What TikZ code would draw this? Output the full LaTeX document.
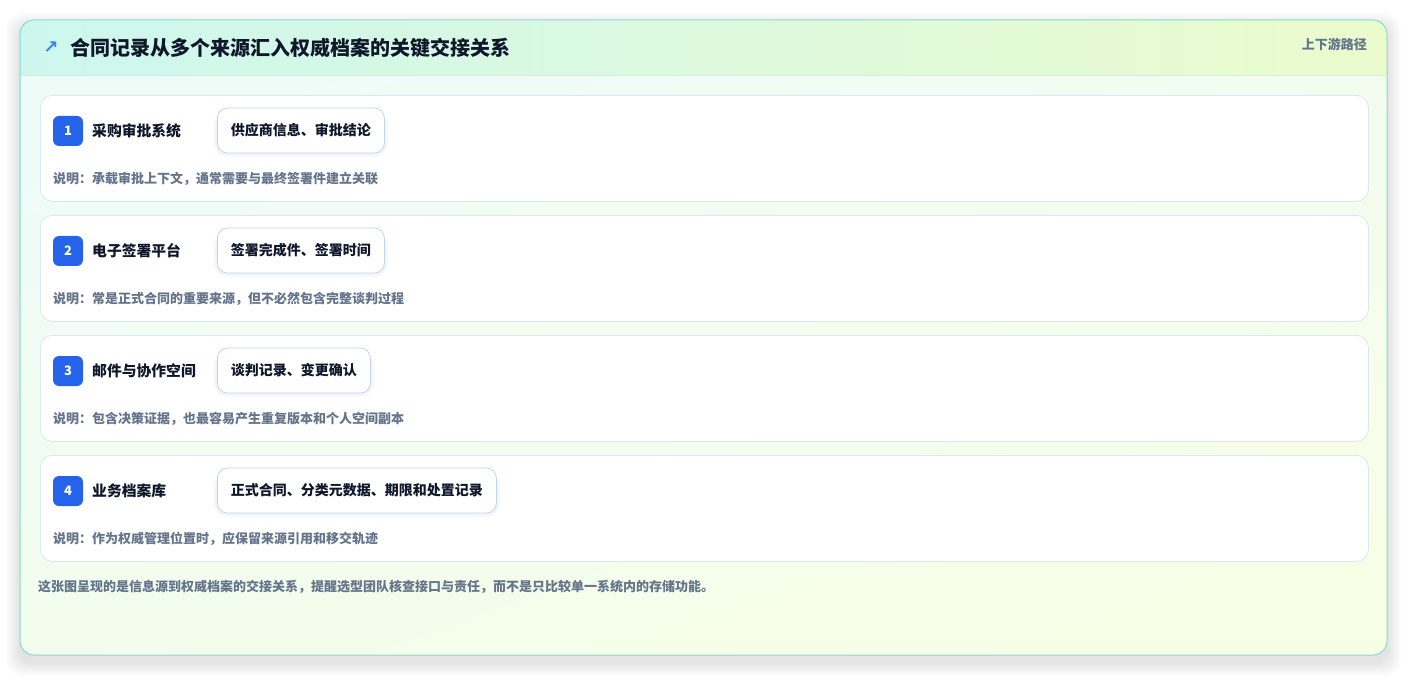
\documentclass[tikz,border=0pt]{standalone}
\usepackage{fontspec}
\setmainfont{Noto Sans CJK SC}
\newfontfamily\symf{DejaVu Sans}
\definecolor{cardborder}{HTML}{86DCCF}
\definecolor{headl}{HTML}{CDF7EE}
\definecolor{headr}{HTML}{EBFBCD}
\definecolor{bodytl}{HTML}{EEFCF8}
\definecolor{bodybr}{HTML}{F7FEE6}
\definecolor{headline}{HTML}{D3EFE6}
\definecolor{rowborder}{HTML}{DCE7F2}
\definecolor{chipborder}{HTML}{C3D4EE}
\definecolor{badgeblue}{HTML}{2563EB}
\definecolor{titledark}{HTML}{0F172A}
\definecolor{mutedgray}{HTML}{64748B}
\definecolor{arrowblue}{HTML}{3B82F6}
\begin{document}
\begin{tikzpicture}[x=1pt,y=-1pt,
  rowbox/.style={draw=rowborder, fill=white, rounded corners=12pt, line width=0.8pt,
    minimum width=1328pt, minimum height=106pt, anchor=north west, inner sep=0pt},
  badge/.style={fill=badgeblue, rounded corners=6pt, minimum width=30pt, minimum height=30pt,
    inner sep=0pt, text=white, font=\bfseries\fontsize{13}{13}\selectfont},
  srclabel/.style={anchor=west, inner sep=0pt, text=titledark, font=\bfseries\fontsize{14.8}{14.8}\selectfont},
  chip/.style={draw=chipborder, fill=white, rounded corners=10pt, line width=0.8pt,
    minimum height=45pt, inner xsep=13.5pt, inner ysep=0pt, anchor=west, text=titledark,
    font=\bfseries\fontsize{14}{14}\selectfont},
  desc/.style={anchor=west, inner sep=0pt, text=mutedgray, font=\bfseries\fontsize{13}{13}\selectfont},
  chipshadow/.style={fill=chipborder, opacity=0.06, rounded corners=12pt}
]
\useasboundingbox (0,0) rectangle (1408,676);
\fill[white] (0,0) rectangle (1408,676);
% outer card shadow
\foreach \i in {1,...,14}{
  \fill[black, opacity=0.007, rounded corners=16pt] (20-\i,20-\i+7) rectangle (1387+\i,655+\i+7);
}
% card body gradient
\begin{scope}
  \clip[rounded corners=14pt] (20,20) rectangle (1387,655);
  \shade[shading=axis, top color=bodytl, bottom color=bodybr, shading angle=20] (20,20) rectangle (1387,655);
  \shade[left color=headl, right color=headr] (20,20) rectangle (1387,75);
  \draw[headline, line width=0.8pt] (20,75) -- (1387,75);
\end{scope}
\draw[cardborder, line width=1pt, rounded corners=14pt] (20,20) rectangle (1387,655);
% header
\node[anchor=center, inner sep=0pt, text=arrowblue, font=\symf\bfseries\fontsize{18}{18}\selectfont] (arr) at (51,48) {↗};
\node[anchor=west, inner sep=0pt, text=titledark, font=\bfseries\fontsize{20}{20}\selectfont] (title) at (70,48) {合同记录从多个来源汇入权威档案的关键交接关系};
\node[anchor=east, inner sep=0pt, text=mutedgray, font=\bfseries\fontsize{13}{13}\selectfont] (path) at (1367,44) {上下游路径};
% rows
\foreach \k/\lab/\chiptext/\desctext [count=\n from 0] in {
  1/采购审批系统/供应商信息、审批结论/说明：承载审批上下文，通常需要与最终签署件建立关联,
  2/电子签署平台/签署完成件、签署时间/说明：常是正式合同的重要来源，但不必然包含完整谈判过程,
  3/邮件与协作空间/谈判记录、变更确认/说明：包含决策证据，也最容易产生重复版本和个人空间副本,
  4/业务档案库/正式合同、分类元数据、期限和处置记录/说明：作为权威管理位置时，应保留来源引用和移交轨迹}{
  \pgfmathsetmacro{\yy}{95+120*\n}
  \node[rowbox] (row\k) at (40,\yy) {};
  \node[badge] (badge\k) at (68,\yy+36) {\k};
  \node[srclabel] (lab\k) at (92,\yy+36) {\lab};
  \node[chip, opacity=0] (chipghost\k) at (217,\yy+35.5) {\chiptext};
  \foreach \s in {1,2,3,4}{
    \fill[chipshadow] ([xshift=-\s pt, yshift=-\s pt-3pt]chipghost\k.north west) rectangle ([xshift=\s pt, yshift=\s pt-5pt]chipghost\k.south east);
  }
  \node[chip] (chip\k) at (217,\yy+35.5) {\chiptext};
  \node[desc] (desc\k) at (53,\yy+83.5) {\desctext};
}
% footer
\node[anchor=west, inner sep=0pt, text=mutedgray, font=\bfseries\fontsize{13}{13}\selectfont] (foot) at (38,587) {这张图呈现的是信息源到权威档案的交接关系，提醒选型团队核查接口与责任，而不是只比较单一系统内的存储功能。};
\end{tikzpicture}
\end{document}
